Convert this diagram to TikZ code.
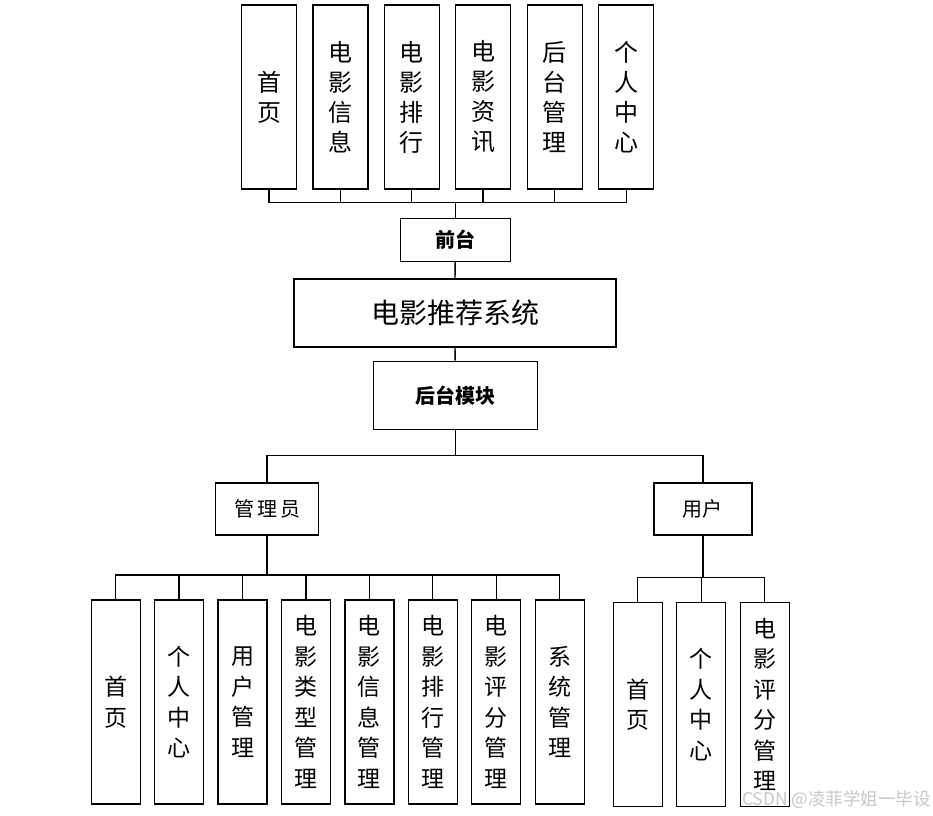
\documentclass[tikz,border=0pt]{standalone}
\usepackage{fontspec}
\newfontfamily\cjk{Noto Sans CJK SC}
\begin{document}
\begin{tikzpicture}[x=1pt,y=-1pt,
  box/.style={draw,line width=1.4pt,fill=white,inner sep=0pt,align=center},
  topbox/.style={box,minimum width=55pt,minimum height=184pt,font=\cjk\fontsize{24}{30}\selectfont},
  subbox/.style={box,minimum width=49pt,minimum height=204pt,font=\cjk\fontsize{23}{30.5}\selectfont},
  link/.style={line width=1.4pt}]
\useasboundingbox (0,0) rectangle (933,815);
% front end
\node[topbox] (t1) at (269,97) {首\\页};
\node[topbox] (t2) at (340.4,97) {电\\影\\信\\息};
\node[topbox] (t3) at (411.7,97) {电\\影\\排\\行};
\node[topbox] (t4) at (483,97) {电\\影\\资\\讯};
\node[topbox] (t5) at (554.7,97) {后\\台\\管\\理};
\node[topbox] (t6) at (626.2,97) {个\\人\\中\\心};
\node[box,minimum width=110pt,minimum height=43pt,font=\cjk\bfseries\fontsize{20}{24}\selectfont] (qt) at (455.2,239.7) {前台};
% system
\node[box,minimum width=322pt,minimum height=68pt,font=\cjk\fontsize{28}{32}\selectfont] (sys) at (455,313) {电影推荐系统};
\node[box,minimum width=164pt,minimum height=68pt,font=\cjk\bfseries\fontsize{20}{24}\selectfont] (ht) at (455.2,395.3) {后台模块};
% back end
\node[box,minimum width=103pt,minimum height=52pt,font=\cjk\fontsize{20}{24}\selectfont] (gly) at (267,509) {管\hspace{3pt}理\hspace{3pt}员};
\node[box,minimum width=98pt,minimum height=52pt,font=\cjk\fontsize{20}{24}\selectfont] (yh) at (702.8,509) {用户};
\node[subbox] (a1) at (115.7,702) {首\\页};
\node[subbox] (a2) at (179,702) {个\\人\\中\\心};
\node[subbox] (a3) at (242.5,702) {用\\户\\管\\理};
\node[subbox] (a4) at (305.8,702) {电\\影\\类\\型\\管\\理};
\node[subbox] (a5) at (369.3,702) {电\\影\\信\\息\\管\\理};
\node[subbox] (a6) at (432.7,702) {电\\影\\排\\行\\管\\理};
\node[subbox] (a7) at (496.2,702) {电\\影\\评\\分\\管\\理};
\node[subbox] (a8) at (559.7,702) {系\\统\\管\\理};
\node[subbox] (u1) at (637.7,704.5) {首\\页};
\node[subbox] (u2) at (701.2,704.5) {个\\人\\中\\心};
\node[subbox] (u3) at (764.7,704.5) {电\\影\\评\\分\\管\\理};
% connectors
\draw[link] (t1.south) -- ++(0,12.7) -| (qt.north);
\draw[link] (t2.south) -- ++(0,12.7) -| (qt.north);
\draw[link] (t3.south) -- ++(0,12.7) -| (qt.north);
\draw[link] (t4.south) -- ++(0,12.7) -| (qt.north);
\draw[link] (t5.south) -- ++(0,12.7) -| (qt.north);
\draw[link] (t6.south) -- ++(0,12.7) -| (qt.north);
\draw[link] (qt.south) -- (sys.north);
\draw[link] (sys.south) -- (ht.north);
\draw[link] (ht.south) -- ++(0,25.7) -| (gly.north);
\draw[link] (ht.south) -- ++(0,25.7) -| (yh.north);
\draw[link] (gly.south) -- ++(0,39.3) -| (a1.north);
\draw[link] (gly.south) -- ++(0,39.3) -| (a2.north);
\draw[link] (gly.south) -- ++(0,39.3) -| (a3.north);
\draw[link] (gly.south) -- ++(0,39.3) -| (a4.north);
\draw[link] (gly.south) -- ++(0,39.3) -| (a5.north);
\draw[link] (gly.south) -- ++(0,39.3) -| (a6.north);
\draw[link] (gly.south) -- ++(0,39.3) -| (a7.north);
\draw[link] (gly.south) -- ++(0,39.3) -| (a8.north);
\draw[link] (yh.south) -- ++(0,42) -| (u1.north);
\draw[link] (yh.south) -- ++(0,42) -| (u2.north);
\draw[link] (yh.south) -- ++(0,42) -| (u3.north);
% watermark
\node[anchor=east,inner sep=0pt,text=black!22,font=\cjk\fontsize{17.5}{20}\selectfont] (wm) at (931,800) {CSDN @凌菲学姐一毕设};
\end{tikzpicture}
\end{document}
